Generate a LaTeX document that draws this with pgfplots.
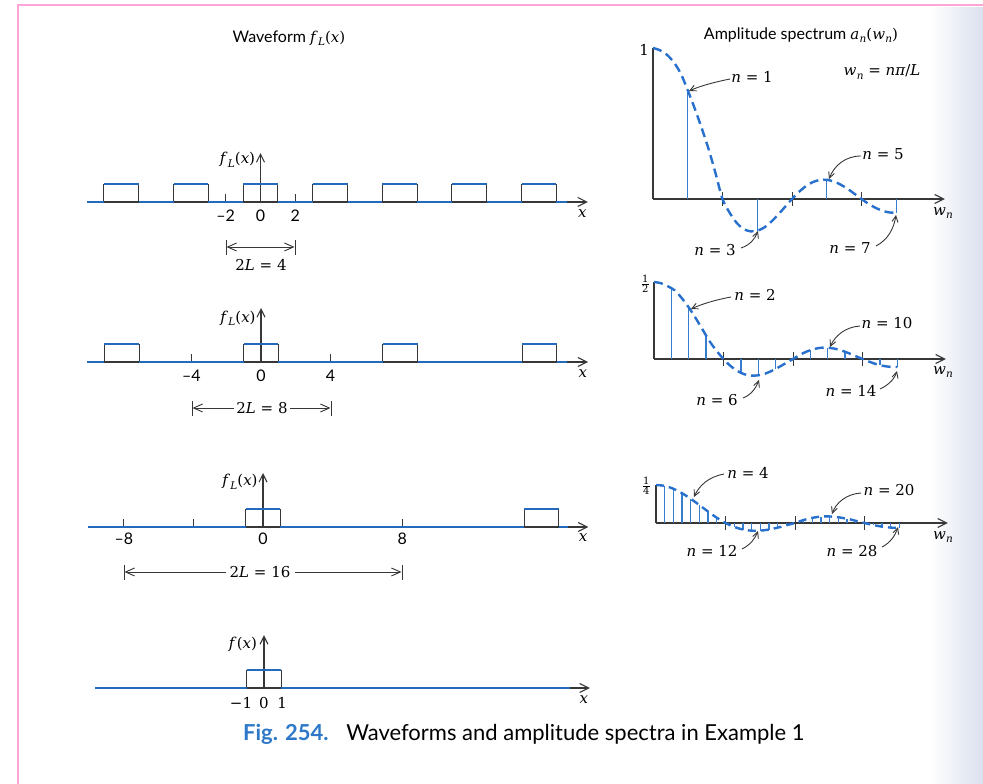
\documentclass[border=0pt]{standalone}
\usepackage{fontspec}
\usepackage{pgfplots}
\pgfplotsset{compat=1.18}
\usetikzlibrary{arrows.meta}
\newfontfamily\capsans{Lato}
\newfontfamily\dv{DejaVu Serif}
\definecolor{wblue}{RGB}{35,105,190}
\definecolor{sblue}{RGB}{55,125,205}
\definecolor{cblue}{RGB}{40,112,205}
\definecolor{axc}{RGB}{55,55,55}
\definecolor{capblue}{RGB}{45,120,200}
\definecolor{pinkf}{RGB}{255,165,215}
\definecolor{edgec}{RGB}{218,224,238}
\newcommand\lab{\dv\fontsize{15}{18}\selectfont}
\newcommand\slab{\capsans\fontsize{16}{18}\selectfont}
\newcommand\sub[1]{\raisebox{-3.5pt}{\fontsize{10.5}{12}\selectfont\textit{#1}}}
\newcommand\fL{\textit{f}\kern0.3pt\sub{L}(\textit{x})}
\newcommand\wn{\textit{w}\kern0.3pt\sub{n}}
\tikzset{
  axarrow/.style={axc, line width=1.1pt, -{Straight Barb[length=9pt,width=9pt]}},
  ann/.style={axc, line width=0.9pt, -{Straight Barb[length=6pt,width=6pt]}},
  dim/.style={axc, line width=0.9pt, -{Straight Barb[length=9pt,width=8pt]}},
}
\pgfplotsset{
  wave/.style={anchor=origin, x=17.4pt, y=18pt, xmin=-10.2, xmax=19.2, ymin=-0.9, ymax=3.2,
    axis lines=none, clip=false, unbounded coords=jump},
  spec/.style={anchor=origin, x=69.5pt, xmin=0, xmax=4.3,
    axis lines=none, clip=false, unbounded coords=jump},
  blueline/.style={wblue, line width=2.8pt},
  sides/.style={axc, line width=1pt},
  stems/.style={sblue, line width=1.3pt},
  curve/.style={cblue, line width=2.4pt, dash pattern=on 9pt off 5pt, smooth},
}
\begin{document}
\begin{tikzpicture}
\useasboundingbox (0,0) rectangle (983pt,784pt);
\fill[white] (0,0) rectangle (983pt,784pt);
\shade[left color=white, right color=edgec] (930pt,0pt) rectangle (983pt,776pt);
\draw[pinkf, line width=2.5pt] (18pt,0pt) -- (18pt,779pt) -- (983pt,779pt);

% ---------------- Row 1: L = 2 ----------------
\begin{axis}[wave, at={(260.5pt,582pt)}]
\addplot[axarrow] coordinates {(-9.97,0) (18.82,0)};
\addplot[axc, line width=1.1pt, -{Straight Barb[length=8pt,width=8pt]}] coordinates {(0,0) (0,2.72)};
\addplot[axc, line width=1pt] coordinates {(-2,0) (-2,0.45) (-2,nan) (2,0) (2,0.45)};
\addplot[sides] coordinates {(-9,0)(-9,1)(-9,nan)(-7,0)(-7,1)(-7,nan)(-5,0)(-5,1)(-5,nan)(-3,0)(-3,1)(-3,nan)(-1,0)(-1,1)(-1,nan)(1,0)(1,1)(1,nan)(3,0)(3,1)(3,nan)(5,0)(5,1)(5,nan)(7,0)(7,1)(7,nan)(9,0)(9,1)(9,nan)(11,0)(11,1)(11,nan)(13,0)(13,1)(13,nan)(15,0)(15,1)(15,nan)(17,0)(17,1)};
\addplot[blueline] coordinates {(-9.97,0)(-9,0)(-9,nan)(-9,1)(-7,1)(-7,nan)(-7,0)(-5,0)(-5,nan)(-5,1)(-3,1)(-3,nan)(-3,0)(-1,0)(-1,nan)(-1,1)(1,1)(1,nan)(1,0)(3,0)(3,nan)(3,1)(5,1)(5,nan)(5,0)(7,0)(7,nan)(7,1)(9,1)(9,nan)(9,0)(11,0)(11,nan)(11,1)(13,1)(13,nan)(13,0)(15,0)(15,nan)(15,1)(17,1)(17,nan)(17,0)(17.6,0)};
\node[anchor=east, inner sep=0pt] at (axis cs:-0.3,2.35) {\lab\fL};
\node at (axis cs:-2,-0.75) {\slab –2};
\node at (axis cs:0,-0.75) {\slab 0};
\node at (axis cs:2,-0.75) {\slab 2};
\node at (axis cs:18.5,-0.62) {\lab\textit{x}};
\end{axis}

% ---------------- Row 2: L = 4 ----------------
\begin{axis}[wave, at={(261pt,422pt)}]
\addplot[axarrow] coordinates {(-10,0) (18.8,0)};
\addplot[axc, line width=1.1pt, -{Straight Barb[length=8pt,width=8pt]}] coordinates {(0,0) (0,3.0)};
\addplot[axc, line width=1pt] coordinates {(-4,0) (-4,0.45) (-4,nan) (4,0) (4,0.45)};
\addplot[sides] coordinates {(-9,0)(-9,1)(-9,nan)(-7,0)(-7,1)(-7,nan)(-1,0)(-1,1)(-1,nan)(1,0)(1,1)(1,nan)(7,0)(7,1)(7,nan)(9,0)(9,1)(9,nan)(15,0)(15,1)(15,nan)(17,0)(17,1)};
\addplot[blueline] coordinates {(-10,0)(-9,0)(-9,nan)(-9,1)(-7,1)(-7,nan)(-7,0)(-1,0)(-1,nan)(-1,1)(1,1)(1,nan)(1,0)(7,0)(7,nan)(7,1)(9,1)(9,nan)(9,0)(15,0)(15,nan)(15,1)(17,1)(17,nan)(17,0)(17.6,0)};
\node[anchor=east, inner sep=0pt] at (axis cs:-0.3,2.44) {\lab\fL};
\node at (axis cs:-4,-0.78) {\slab –4};
\node at (axis cs:0,-0.78) {\slab 0};
\node at (axis cs:4,-0.78) {\slab 4};
\node at (axis cs:18.5,-0.62) {\lab\textit{x}};
\end{axis}

% ---------------- Row 3: L = 8 ----------------
\begin{axis}[wave, at={(263pt,257pt)}]
\addplot[axarrow] coordinates {(-10.06,0) (18.7,0)};
\addplot[axc, line width=1.1pt, -{Straight Barb[length=8pt,width=8pt]}] coordinates {(0,0) (0,3.0)};
\addplot[axc, line width=1pt] coordinates {(-8,0) (-8,0.45) (-8,nan) (-4,0) (-4,0.45) (-4,nan) (8,0) (8,0.45)};
\addplot[sides] coordinates {(-1,0)(-1,1)(-1,nan)(1,0)(1,1)(1,nan)(15,0)(15,1)(15,nan)(17,0)(17,1)};
\addplot[blueline] coordinates {(-10.06,0)(-1,0)(-1,nan)(-1,1)(1,1)(1,nan)(1,0)(15,0)(15,nan)(15,1)(17,1)(17,nan)(17,0)(17.5,0)};
\node[anchor=east, inner sep=0pt] at (axis cs:-0.3,2.5) {\lab\fL};
\node at (axis cs:-8,-0.67) {\slab –8};
\node at (axis cs:0,-0.67) {\slab 0};
\node at (axis cs:8,-0.67) {\slab 8};
\node at (axis cs:18.4,-0.6) {\lab\textit{x}};
\end{axis}

% ---------------- Row 4: f(x) ----------------
\begin{axis}[wave, x=17.2pt, at={(264pt,96pt)}]
\addplot[axarrow] coordinates {(-9.8,0) (18.95,0)};
\addplot[axc, line width=1.1pt, -{Straight Barb[length=8pt,width=8pt]}] coordinates {(0,0) (0,2.94)};
\addplot[sides] coordinates {(-1,0)(-1,1)(-1,nan)(1,0)(1,1)};
\addplot[blueline] coordinates {(-9.8,0)(-1,0)(-1,nan)(-1,1)(1,1)(1,nan)(1,0)(17.8,0)};
\node[anchor=east, inner sep=0pt] at (axis cs:-0.4,2.44) {\lab\textit{f}(\textit{x})};
\node[anchor=east, inner sep=0pt] at (axis cs:-0.68,-0.82) {\lab −1};
\node at (axis cs:0,-0.82) {\lab 0};
\node at (axis cs:1.05,-0.82) {\lab 1};
\node at (axis cs:18.6,-0.62) {\lab\textit{x}};
\end{axis}

% ---------------- Spectrum 1 ----------------
\begin{axis}[spec, at={(653pt,585pt)}, y=151pt, ymin=-0.3, ymax=1.05]
\addplot[axarrow] coordinates {(0,0) (4.2,0)};
\addplot[axc, line width=1.1pt] coordinates {(0,0) (0,1.0)};
\addplot[axc, line width=1pt] coordinates {(1,-0.046)(1,0.046)(1,nan)(2,-0.046)(2,0.046)(2,nan)(3,-0.046)(3,0.046)};
\addplot[stems] coordinates {(0.5,0)(0.5,0.72)(0.5,nan)(1.5,0)(1.5,-0.21)(1.5,nan)(2.5,0)(2.5,0.127)(2.5,nan)(3.5,0)(3.5,-0.091)};
\addplot[curve] coordinates {(0,1.0)(0.1,0.985)(0.2,0.955)(0.3,0.905)(0.4,0.83)(0.5,0.72)(0.6,0.60)(0.7,0.47)(0.8,0.33)(0.9,0.17)(1.0,0.0)(1.1,-0.089)(1.2,-0.156)(1.3,-0.198)(1.4,-0.214)(1.5,-0.21)(1.6,-0.189)(1.7,-0.151)(1.8,-0.104)(1.9,-0.052)(2.0,0)(2.1,0.047)(2.2,0.085)(2.3,0.112)(2.4,0.126)(2.5,0.127)(2.6,0.116)(2.7,0.095)(2.8,0.067)(2.9,0.034)(3.0,0)(3.1,-0.032)(3.2,-0.058)(3.3,-0.078)(3.4,-0.089)(3.5,-0.091)};
\end{axis}

% ---------------- Spectrum 2 ----------------
\begin{axis}[spec, at={(654pt,425pt)}, y=154pt, ymin=-0.2, ymax=0.55]
\addplot[axarrow] coordinates {(0,0) (4.2,0)};
\addplot[axc, line width=1.1pt] coordinates {(0,0) (0,0.5)};
\addplot[axc, line width=1pt] coordinates {(1,-0.045)(1,0.045)(1,nan)(2,-0.045)(2,0.045)(2,nan)(3,-0.045)(3,0.045)};
\addplot[stems] coordinates {(0.25,0)(0.25,0.462)(0.25,nan)(0.5,0)(0.5,0.335)(0.5,nan)(0.75,0)(0.75,0.152)(0.75,nan)(1.25,0)(1.25,-0.090)(1.25,nan)(1.5,0)(1.5,-0.106)(1.5,nan)(1.75,0)(1.75,-0.064)(1.75,nan)(2.25,0)(2.25,0.058)(2.25,nan)(2.5,0)(2.5,0.073)(2.5,nan)(2.75,0)(2.75,0.047)(2.75,nan)(3.25,0)(3.25,-0.040)(3.25,nan)(3.5,0)(3.5,-0.052)};
\addplot[curve] coordinates {(0,0.5)(0.1,0.492)(0.2,0.472)(0.3,0.445)(0.4,0.395)(0.5,0.335)(0.6,0.265)(0.7,0.19)(0.8,0.115)(0.9,0.053)(1.0,0)(1.1,-0.045)(1.2,-0.078)(1.3,-0.099)(1.4,-0.108)(1.5,-0.106)(1.6,-0.095)(1.7,-0.076)(1.8,-0.052)(1.9,-0.026)(2.0,0)(2.1,0.027)(2.2,0.049)(2.3,0.064)(2.4,0.073)(2.5,0.073)(2.6,0.067)(2.7,0.055)(2.8,0.038)(2.9,0.019)(3.0,0)(3.1,-0.018)(3.2,-0.034)(3.3,-0.045)(3.4,-0.051)(3.5,-0.052)};
\end{axis}

% ---------------- Spectrum 3 ----------------
\begin{axis}[spec, at={(656pt,261pt)}, y=152pt, ymin=-0.1, ymax=0.3]
\addplot[axarrow] coordinates {(0,0) (4.2,0)};
\addplot[axc, line width=1.1pt] coordinates {(0,0) (0,0.25)};
\addplot[axc, line width=1pt] coordinates {(1,-0.046)(1,0.046)(1,nan)(2,-0.046)(2,0.046)(2,nan)(3,-0.046)(3,0.046)};
\addplot[stems] coordinates {(0.125,0)(0.125,0.244)(0.125,nan)(0.25,0)(0.25,0.225)(0.25,nan)(0.375,0)(0.375,0.196)(0.375,nan)(0.5,0)(0.5,0.159)(0.5,nan)(0.625,0)(0.625,0.118)(0.625,nan)(0.75,0)(0.75,0.075)(0.75,nan)(0.875,0)(0.875,0.035)(0.875,nan)(1.125,0)(1.125,-0.026)(1.125,nan)(1.25,0)(1.25,-0.043)(1.25,nan)(1.375,0)(1.375,-0.051)(1.375,nan)(1.5,0)(1.5,-0.050)(1.5,nan)(1.625,0)(1.625,-0.043)(1.625,nan)(1.75,0)(1.75,-0.031)(1.75,nan)(1.875,0)(1.875,-0.015)(1.875,nan)(2.125,0)(2.125,0.019)(2.125,nan)(2.25,0)(2.25,0.034)(2.25,nan)(2.375,0)(2.375,0.042)(2.375,nan)(2.5,0)(2.5,0.043)(2.5,nan)(2.625,0)(2.625,0.038)(2.625,nan)(2.75,0)(2.75,0.028)(2.75,nan)(2.875,0)(2.875,0.014)(2.875,nan)(3.125,0)(3.125,-0.014)(3.125,nan)(3.25,0)(3.25,-0.024)(3.25,nan)(3.375,0)(3.375,-0.030)(3.375,nan)(3.5,0)(3.5,-0.032)};
\addplot[curve, dash pattern=on 8pt off 5pt] coordinates {(0,0.25)(0.1,0.246)(0.2,0.234)(0.3,0.215)(0.4,0.189)(0.5,0.159)(0.6,0.126)(0.7,0.092)(0.8,0.058)(0.9,0.027)(1.0,0)(1.1,-0.021)(1.2,-0.037)(1.3,-0.047)(1.4,-0.051)(1.5,-0.050)(1.6,-0.045)(1.7,-0.036)(1.8,-0.025)(1.9,-0.012)(2.0,0)(2.1,0.016)(2.2,0.029)(2.3,0.038)(2.4,0.043)(2.5,0.043)(2.6,0.039)(2.7,0.032)(2.8,0.023)(2.9,0.011)(3.0,0)(3.1,-0.011)(3.2,-0.020)(3.3,-0.027)(3.4,-0.031)(3.5,-0.032)};
\end{axis}

% ---------------- Annotations (image pixel coordinates) ----------------
\begin{scope}[x=1pt,y=-1pt,yshift=784pt]
\node at (289,38) {\slab Waveform \lab\fL};
\node at (801,35) {\slab Amplitude spectrum \lab\textit{a}\kern0.3pt\sub{n}(\wn)};
\node at (882,72) {\lab\wn\ = \textit{n}\textit{π}/\textit{L}};
\node[anchor=east, inner sep=1pt] at (650,50) {\lab 1};
\node[anchor=east, inner sep=1pt] at (651,284) {\dv\fontsize{10}{11}\selectfont$\frac{\mbox{1}}{\mbox{2}}$};
\node[anchor=east, inner sep=1pt] at (652,486) {\dv\fontsize{10}{11}\selectfont$\frac{\mbox{1}}{\mbox{4}}$};
\node at (943,213) {\lab\wn};
\node at (943,372) {\lab\wn};
\node at (943,537) {\lab\wn};
% spectrum 1
\node at (752,77) {\lab\textit{n} = 1};
\draw[ann] (730,79) .. controls (715,82) and (700,86) .. (689,91);
\node at (883,154) {\lab\textit{n} = 5};
\draw[ann] (861,156) .. controls (845,156) and (834,166) .. (829,179);
\node at (715,250) {\lab\textit{n} = 3};
\draw[ann] (741,248) .. controls (750,245) and (755,239) .. (758,231);
\node at (850,248) {\lab\textit{n} = 7};
\draw[ann] (876,246) .. controls (888,240) and (894,228) .. (896,215);
% spectrum 2
\node at (755,295) {\lab\textit{n} = 2};
\draw[ann] (731,297) .. controls (715,300) and (702,304) .. (691,309);
\node at (887,323) {\lab\textit{n} = 10};
\draw[ann] (860,326) .. controls (845,327) and (835,336) .. (830,347);
\node at (717,400) {\lab\textit{n} = 6};
\draw[ann] (743,398) .. controls (751,395) and (756,388) .. (759,380);
\node at (851,391) {\lab\textit{n} = 14};
\draw[ann] (880,389) .. controls (889,385) and (895,378) .. (897,371);
% spectrum 3
\node at (748,473) {\lab\textit{n} = 4};
\draw[ann] (724,474) .. controls (708,477) and (699,486) .. (694,497);
\node at (889,490) {\lab\textit{n} = 20};
\draw[ann] (861,493) .. controls (846,494) and (836,503) .. (832,514);
\node at (712,551) {\lab\textit{n} = 12};
\draw[ann] (742,549) .. controls (750,545) and (755,539) .. (758,531);
\node at (852,551) {\lab\textit{n} = 28};
\draw[ann] (882,547) .. controls (890,543) and (895,536) .. (898,527);
% dimension arrows
\draw[axc, line width=0.9pt] (226,240) -- (226,255) (295,240) -- (295,255);
\draw[dim] (260,247) -- (226.5,247);
\draw[dim] (260,247) -- (294.5,247);
\node at (261,265) {\lab 2\textit{L} = 4};
\draw[axc, line width=0.9pt] (192,401) -- (192,416) (331,401) -- (331,416);
\draw[dim] (234,408) -- (192.5,408);
\draw[dim] (290,408) -- (330.5,408);
\node at (262,408) {\lab 2\textit{L} = 8};
\draw[axc, line width=0.9pt] (124,565) -- (124,580) (402,565) -- (402,580);
\draw[dim] (226,572) -- (124.5,572);
\draw[dim] (295,572) -- (401.5,572);
\node at (260,572) {\lab 2\textit{L} = 16};
% caption
\node[anchor=west, inner sep=0pt] at (243,734) {\capsans\fontsize{22}{25}\selectfont{\color{capblue}\bfseries Fig. 254.}\hspace{0.8em}Waveforms and amplitude spectra in Example 1};
\end{scope}
\end{tikzpicture}
\end{document}
